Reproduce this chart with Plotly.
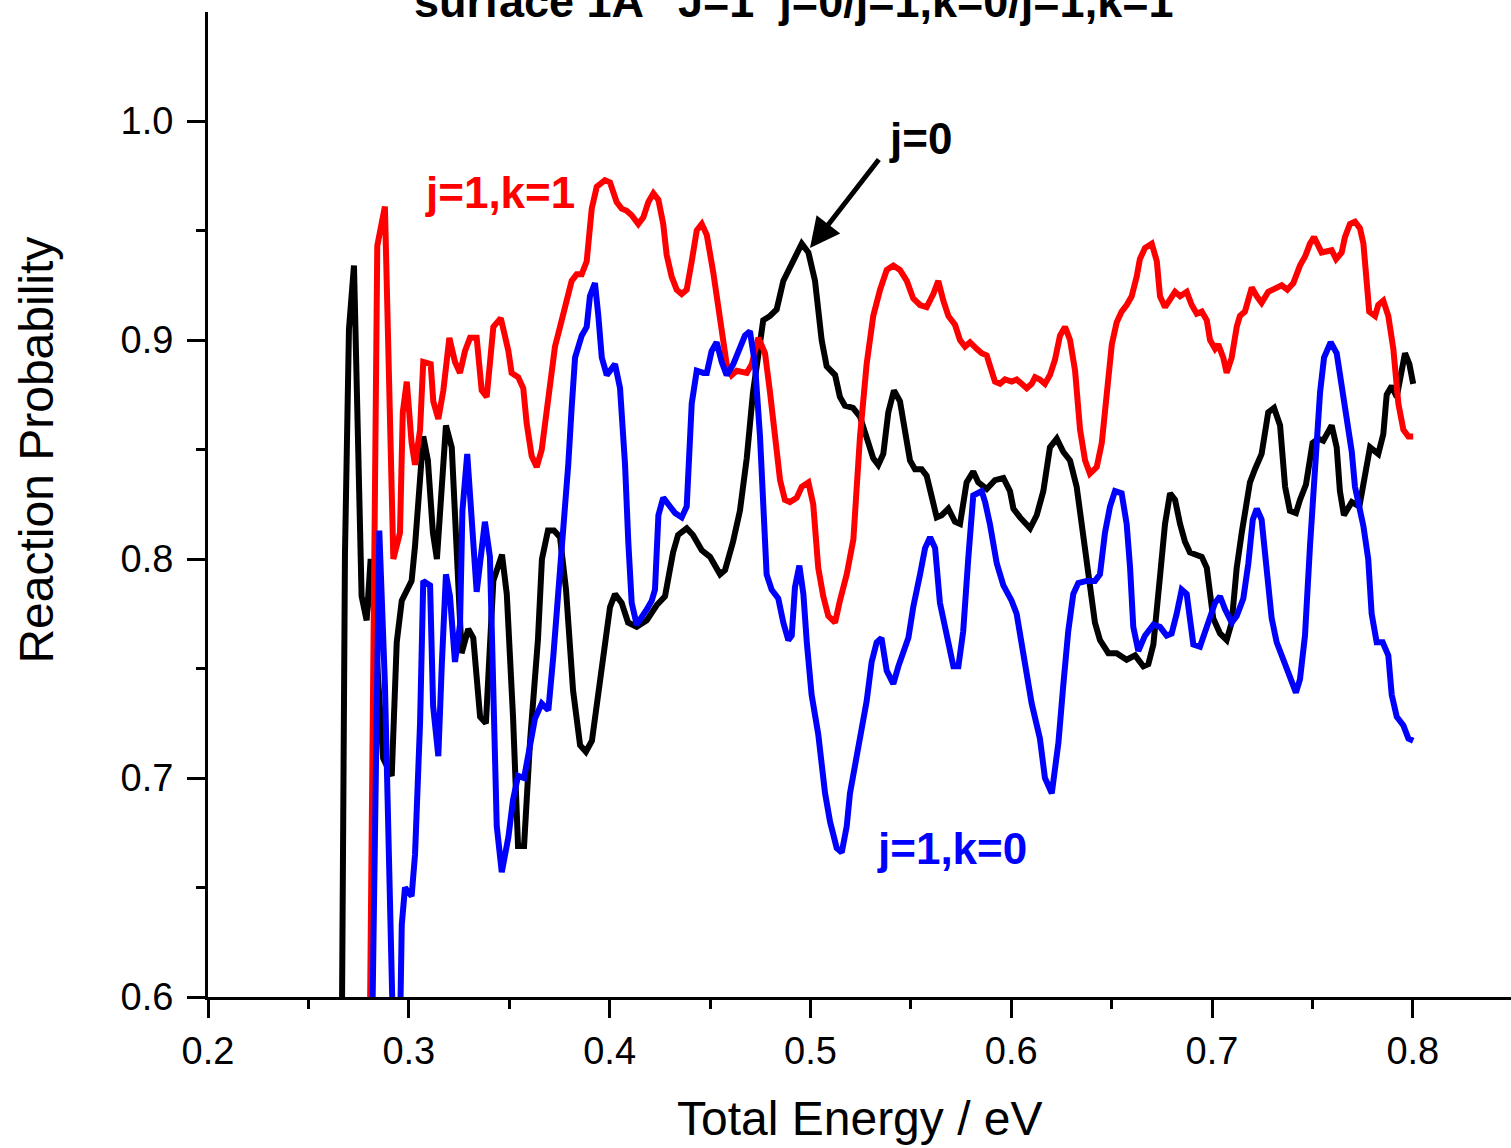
import plotly.graph_objects as go

# ---------------- data ----------------
E_j0 = [0.2657, 0.2682, 0.2702, 0.2727, 0.2765, 0.2790, 0.2810, 0.2872, 0.2915, 0.2940,
        0.2965, 0.3014, 0.3031, 0.3072, 0.3095, 0.3120, 0.3140, 0.3185, 0.3214, 0.3263,
        0.3296, 0.3321, 0.3355, 0.3384, 0.3421, 0.3464, 0.3488, 0.3519, 0.3544, 0.3574,
        0.3604, 0.3643, 0.3663, 0.3693, 0.3723, 0.3753, 0.3783, 0.3818, 0.3853, 0.3882,
        0.3912, 0.3942, 0.3972, 0.4002, 0.4027, 0.4060, 0.4092, 0.4135, 0.4185, 0.4235,
        0.4276, 0.4316, 0.4341, 0.4384, 0.4415, 0.4459, 0.4500, 0.4550, 0.4575, 0.4615,
        0.4649, 0.4683, 0.4714, 0.4765, 0.4799, 0.4832, 0.4865, 0.4915, 0.4957, 0.4990,
        0.5023, 0.5056, 0.5081, 0.5123, 0.5147, 0.5172, 0.5212, 0.5247, 0.5280, 0.5313,
        0.5338, 0.5363, 0.5388, 0.5416, 0.5446, 0.5471, 0.5496, 0.5521, 0.5554, 0.5579,
        0.5604, 0.5629, 0.5654, 0.5687, 0.5720, 0.5745, 0.5778, 0.5811, 0.5836, 0.5878,
        0.5919, 0.5961, 0.5994, 0.6011, 0.6044, 0.6094, 0.6127, 0.6160, 0.6193, 0.6227,
        0.6259, 0.6293, 0.6326, 0.6359, 0.6392, 0.6417, 0.6442, 0.6484, 0.6525, 0.6575,
        0.6617, 0.6658, 0.6683, 0.6708, 0.6741, 0.6766, 0.6791, 0.6816, 0.6841, 0.6865,
        0.6890, 0.6924, 0.6949, 0.6974, 0.7006, 0.7040, 0.7073, 0.7098, 0.7123, 0.7148,
        0.7189, 0.7214, 0.7247, 0.7280, 0.7309, 0.7339, 0.7364, 0.7388, 0.7418, 0.7438,
        0.7468, 0.7501, 0.7529, 0.7554, 0.7596, 0.7621, 0.7637, 0.7657, 0.7696, 0.7734,
        0.7754, 0.7787, 0.7828, 0.7853, 0.7870, 0.7895, 0.7920, 0.7945, 0.7961, 0.7983,
        0.8002]
P_j0 = [0.45, 0.802, 0.905, 0.934, 0.783, 0.772, 0.800, 0.709, 0.701, 0.762,
        0.781, 0.790, 0.806, 0.856, 0.845, 0.812, 0.800, 0.861, 0.851, 0.757,
        0.768, 0.764, 0.728, 0.725, 0.790, 0.802, 0.784, 0.728, 0.669, 0.669,
        0.717, 0.763, 0.800, 0.813, 0.813, 0.810, 0.786, 0.740, 0.715, 0.712,
        0.717, 0.736, 0.758, 0.778, 0.784, 0.780, 0.771, 0.769, 0.772, 0.779,
        0.783, 0.803, 0.811, 0.814, 0.811, 0.804, 0.801, 0.793, 0.795, 0.808,
        0.822, 0.846, 0.876, 0.909, 0.911, 0.914, 0.927, 0.937, 0.944, 0.940,
        0.927, 0.900, 0.888, 0.884, 0.874, 0.870, 0.869, 0.865, 0.856, 0.846,
        0.843, 0.848, 0.867, 0.877, 0.872, 0.858, 0.845, 0.841, 0.841, 0.838,
        0.827, 0.819, 0.820, 0.823, 0.817, 0.816, 0.835, 0.840, 0.835, 0.832,
        0.836, 0.837, 0.831, 0.823, 0.819, 0.814, 0.820, 0.831, 0.851, 0.855,
        0.849, 0.845, 0.833, 0.810, 0.785, 0.771, 0.763, 0.757, 0.757, 0.754,
        0.756, 0.751, 0.752, 0.761, 0.792, 0.816, 0.830, 0.827, 0.816, 0.808,
        0.803, 0.802, 0.801, 0.796, 0.773, 0.766, 0.763, 0.771, 0.796, 0.812,
        0.835, 0.841, 0.848, 0.867, 0.869, 0.861, 0.833, 0.822, 0.821, 0.827,
        0.834, 0.853, 0.855, 0.854, 0.861, 0.851, 0.831, 0.820, 0.826, 0.824,
        0.833, 0.851, 0.848, 0.857, 0.875, 0.879, 0.874, 0.887, 0.894, 0.889,
        0.880]

E_j1k1 = [0.2792, 0.2843, 0.2881, 0.2923, 0.2956, 0.2970, 0.2990, 0.3014, 0.3031, 0.3056,
          0.3072, 0.3109, 0.3122, 0.3147, 0.3172, 0.3202, 0.3230, 0.3255, 0.3280, 0.3305,
          0.3338, 0.3363, 0.3388, 0.3421, 0.3458, 0.3496, 0.3512, 0.3545, 0.3570, 0.3587,
          0.3612, 0.3637, 0.3662, 0.3687, 0.3712, 0.3728, 0.3753, 0.3786, 0.3811, 0.3836,
          0.3861, 0.3886, 0.3911, 0.3936, 0.3977, 0.4002, 0.4035, 0.4060, 0.4085, 0.4110,
          0.4143, 0.4168, 0.4193, 0.4218, 0.4243, 0.4267, 0.4284, 0.4309, 0.4334, 0.4359,
          0.4384, 0.4409, 0.4434, 0.4459, 0.4484, 0.4516, 0.4550, 0.4583, 0.4608, 0.4633,
          0.4683, 0.4708, 0.4741, 0.4774, 0.4799, 0.4824, 0.4849, 0.4873, 0.4898, 0.4932,
          0.4957, 0.4990, 0.5014, 0.5039, 0.5064, 0.5089, 0.5123, 0.5147, 0.5181, 0.5214,
          0.5247, 0.5280, 0.5313, 0.5347, 0.5380, 0.5413, 0.5446, 0.5480, 0.5512, 0.5546,
          0.5579, 0.5612, 0.5637, 0.5662, 0.5687, 0.5720, 0.5745, 0.5770, 0.5795, 0.5828,
          0.5853, 0.5878, 0.5894, 0.5919, 0.5944, 0.5969, 0.6002, 0.6027, 0.6052, 0.6077,
          0.6102, 0.6119, 0.6143, 0.6168, 0.6193, 0.6218, 0.6243, 0.6268, 0.6293, 0.6318,
          0.6343, 0.6368, 0.6392, 0.6426, 0.6451, 0.6476, 0.6501, 0.6525, 0.6550, 0.6575,
          0.6600, 0.6625, 0.6641, 0.6666, 0.6700, 0.6725, 0.6741, 0.6766, 0.6791, 0.6816,
          0.6841, 0.6874, 0.6899, 0.6924, 0.6949, 0.6974, 0.6990, 0.7015, 0.7031, 0.7056,
          0.7073, 0.7098, 0.7123, 0.7139, 0.7164, 0.7198, 0.7223, 0.7247, 0.7280, 0.7305,
          0.7347, 0.7375, 0.7405, 0.7438, 0.7463, 0.7488, 0.7508, 0.7546, 0.7579, 0.7596,
          0.7618, 0.7646, 0.7662, 0.7687, 0.7712, 0.7737, 0.7754, 0.7770, 0.7783, 0.7812,
          0.7828, 0.7853, 0.7878, 0.7903, 0.7928, 0.7953, 0.7978, 0.8002]
P_j1k1 = [0.45, 0.943, 0.961, 0.800, 0.812, 0.867, 0.881, 0.853, 0.843, 0.859,
          0.890, 0.889, 0.872, 0.864, 0.877, 0.901, 0.890, 0.885, 0.895, 0.901,
          0.901, 0.877, 0.874, 0.906, 0.910, 0.895, 0.885, 0.883, 0.878, 0.862,
          0.847, 0.842, 0.850, 0.869, 0.888, 0.897, 0.906, 0.918, 0.927, 0.930,
          0.930, 0.936, 0.960, 0.970, 0.973, 0.972, 0.963, 0.960, 0.959, 0.957,
          0.953, 0.956, 0.963, 0.967, 0.964, 0.953, 0.939, 0.929, 0.923, 0.921,
          0.923, 0.936, 0.950, 0.953, 0.948, 0.931, 0.908, 0.889, 0.884, 0.886,
          0.885, 0.889, 0.901, 0.894, 0.876, 0.858, 0.836, 0.827, 0.826, 0.828,
          0.833, 0.835, 0.825, 0.796, 0.783, 0.774, 0.771, 0.781, 0.793, 0.809,
          0.856, 0.889, 0.911, 0.923, 0.932, 0.934, 0.932, 0.927, 0.919, 0.916,
          0.915, 0.921, 0.927, 0.918, 0.911, 0.907, 0.900, 0.897, 0.899, 0.896,
          0.894, 0.893, 0.888, 0.881, 0.880, 0.882, 0.881, 0.882, 0.880, 0.878,
          0.880, 0.883, 0.882, 0.880, 0.884, 0.891, 0.902, 0.906, 0.900, 0.886,
          0.859, 0.845, 0.839, 0.842, 0.853, 0.878, 0.898, 0.908, 0.913, 0.916,
          0.920, 0.929, 0.937, 0.942, 0.944, 0.936, 0.920, 0.915, 0.919, 0.922,
          0.920, 0.922, 0.916, 0.912, 0.913, 0.909, 0.900, 0.896, 0.898, 0.892,
          0.885, 0.892, 0.906, 0.911, 0.913, 0.924, 0.920, 0.917, 0.922, 0.923,
          0.925, 0.923, 0.926, 0.934, 0.938, 0.944, 0.947, 0.940, 0.941, 0.941,
          0.937, 0.940, 0.947, 0.953, 0.954, 0.951, 0.944, 0.929, 0.913, 0.911,
          0.916, 0.918, 0.911, 0.896, 0.871, 0.859, 0.856, 0.856]

E_j1k0 = [0.2797, 0.2853, 0.2881, 0.2906, 0.2930, 0.2950, 0.2965, 0.2981, 0.3014, 0.3031,
          0.3056, 0.3072, 0.3106, 0.3121, 0.3147, 0.3164, 0.3185, 0.3205, 0.3230, 0.3255,
          0.3267, 0.3291, 0.3321, 0.3338, 0.3379, 0.3404, 0.3438, 0.3463, 0.3496, 0.3519,
          0.3544, 0.3574, 0.3604, 0.3628, 0.3662, 0.3695, 0.3720, 0.3753, 0.3778, 0.3794,
          0.3811, 0.3828, 0.3861, 0.3886, 0.3902, 0.3927, 0.3944, 0.3961, 0.3986, 0.4027,
          0.4052, 0.4077, 0.4093, 0.4110, 0.4135, 0.4160, 0.4185, 0.4210, 0.4226, 0.4243,
          0.4267, 0.4301, 0.4326, 0.4359, 0.4384, 0.4409, 0.4434, 0.4467, 0.4484, 0.4508,
          0.4533, 0.4558, 0.4583, 0.4616, 0.4649, 0.4674, 0.4699, 0.4724, 0.4749, 0.4765,
          0.4782, 0.4807, 0.4840, 0.4865, 0.4890, 0.4907, 0.4923, 0.4945, 0.4965, 0.4982,
          0.5006, 0.5039, 0.5073, 0.5098, 0.5131, 0.5156, 0.5181, 0.5197, 0.5222, 0.5247,
          0.5280, 0.5305, 0.5330, 0.5354, 0.5380, 0.5413, 0.5438, 0.5488, 0.5512, 0.5546,
          0.5571, 0.5596, 0.5621, 0.5645, 0.5679, 0.5712, 0.5737, 0.5761, 0.5786, 0.5811,
          0.5853, 0.5870, 0.5894, 0.5928, 0.5961, 0.6002, 0.6027, 0.6060, 0.6102, 0.6143,
          0.6168, 0.6202, 0.6235, 0.6259, 0.6284, 0.6309, 0.6334, 0.6376, 0.6417, 0.6442,
          0.6467, 0.6492, 0.6517, 0.6550, 0.6575, 0.6592, 0.6608, 0.6633, 0.6666, 0.6708,
          0.6741, 0.6774, 0.6799, 0.6824, 0.6849, 0.6874, 0.6907, 0.6940, 0.6965, 0.6990,
          0.7015, 0.7040, 0.7065, 0.7098, 0.7123, 0.7156, 0.7181, 0.7203, 0.7223, 0.7247,
          0.7272, 0.7297, 0.7322, 0.7347, 0.7380, 0.7418, 0.7438, 0.7463, 0.7488, 0.7513,
          0.7538, 0.7558, 0.7591, 0.7621, 0.7646, 0.7671, 0.7696, 0.7712, 0.7754, 0.7778,
          0.7795, 0.7820, 0.7850, 0.7878, 0.7895, 0.7920, 0.7953, 0.7978, 0.8002]
P_j1k0 = [0.45, 0.813, 0.743, 0.659, 0.55, 0.55, 0.633, 0.650, 0.646, 0.665,
          0.725, 0.790, 0.788, 0.733, 0.710, 0.751, 0.793, 0.783, 0.753, 0.770,
          0.822, 0.848, 0.811, 0.785, 0.817, 0.801, 0.678, 0.657, 0.673, 0.690,
          0.701, 0.700, 0.715, 0.727, 0.734, 0.731, 0.756, 0.794, 0.820, 0.843,
          0.869, 0.892, 0.902, 0.906, 0.920, 0.926, 0.911, 0.892, 0.884, 0.889,
          0.878, 0.843, 0.808, 0.780, 0.770, 0.773, 0.777, 0.781, 0.786, 0.820,
          0.828, 0.824, 0.821, 0.819, 0.824, 0.871, 0.886, 0.885, 0.885, 0.895,
          0.899, 0.890, 0.884, 0.889, 0.896, 0.902, 0.904, 0.889, 0.856, 0.822,
          0.793, 0.786, 0.782, 0.771, 0.763, 0.765, 0.787, 0.797, 0.784, 0.762,
          0.738, 0.720, 0.693, 0.680, 0.668, 0.666, 0.678, 0.693, 0.706, 0.720,
          0.735, 0.753, 0.762, 0.764, 0.749, 0.743, 0.751, 0.764, 0.778, 0.793,
          0.805, 0.810, 0.805, 0.780, 0.764, 0.751, 0.751, 0.767, 0.800, 0.829,
          0.831, 0.826, 0.816, 0.798, 0.788, 0.781, 0.775, 0.755, 0.734, 0.718,
          0.700, 0.693, 0.716, 0.742, 0.767, 0.784, 0.789, 0.790, 0.790, 0.793,
          0.812, 0.824, 0.831, 0.830, 0.816, 0.796, 0.769, 0.758, 0.765, 0.770,
          0.769, 0.765, 0.766, 0.775, 0.786, 0.784, 0.761, 0.760, 0.767, 0.775,
          0.780, 0.783, 0.777, 0.771, 0.774, 0.782, 0.798, 0.818, 0.823, 0.818,
          0.796, 0.773, 0.762, 0.756, 0.749, 0.739, 0.745, 0.765, 0.806, 0.841,
          0.876, 0.892, 0.899, 0.894, 0.880, 0.865, 0.849, 0.833, 0.815, 0.800,
          0.775, 0.762, 0.762, 0.756, 0.738, 0.728, 0.724, 0.718, 0.717]

X_TICKS = [0.2, 0.3, 0.4, 0.5, 0.6, 0.7, 0.8]
Y_TICKS = [0.6, 0.7, 0.8, 0.9, 1.0]

TITLE = "surface 1A'' J=1  j=0/j=1,k=0/j=1,k=1"
FONT = "Arial, 'Liberation Sans', sans-serif"

# ---------------- figure ----------------
fig = go.Figure()
fig.add_trace(go.Scatter(x=E_j0, y=P_j0, mode="lines", name="j=0",
                         line=dict(color="black", width=6)))
fig.add_trace(go.Scatter(x=E_j1k1, y=P_j1k1, mode="lines", name="j=1,k=1",
                         line=dict(color="#ff0000", width=6)))
fig.add_trace(go.Scatter(x=E_j1k0, y=P_j1k0, mode="lines", name="j=1,k=0",
                         line=dict(color="#0000ff", width=6)))

axis_common = dict(showline=True, linewidth=3, linecolor="black", showgrid=False,
                   zeroline=False, ticks="outside", ticklen=18, tickwidth=3,
                   tickcolor="black", mirror=False,
                   tickfont=dict(family=FONT, size=38, color="black"))

fig.update_xaxes(range=[0.2, 0.8489], tickvals=X_TICKS,
                 ticktext=[f"{v:.1f}" for v in X_TICKS],
                 minor=dict(ticks="outside", ticklen=9, tickwidth=3, tickcolor="black",
                            tick0=0.25, dtick=0.1),
                 ticklabelstandoff=0, **axis_common)
fig.update_yaxes(range=[0.6, 1.0498], tickvals=Y_TICKS,
                 ticktext=[f"{v:.1f}" for v in Y_TICKS],
                 minor=dict(ticks="outside", ticklen=9, tickwidth=3, tickcolor="black",
                            tick0=0.65, dtick=0.1),
                 ticklabelstandoff=6, **axis_common)

annotations = [
    dict(text="<b>" + TITLE + "</b>", xref="paper", yref="paper", x=0.4497, y=1.0,
         xanchor="center", yanchor="middle", yshift=11, showarrow=False,
         font=dict(family=FONT, size=45, color="black")),
    dict(text="Total Energy / eV", xref="paper", yref="paper", x=0.5, y=-0.1234,
         xanchor="center", yanchor="middle", showarrow=False,
         font=dict(family=FONT, size=48, color="black")),
    dict(text="Reaction Probability", xref="paper", yref="paper", x=-0.1316, y=0.5553,
         xanchor="center", yanchor="middle", textangle=-90, showarrow=False,
         font=dict(family=FONT, size=48, color="black")),
    dict(text="<b>j=1,k=1</b>", xref="x", yref="y", x=0.3454, y=0.9674,
         xanchor="center", yanchor="middle", showarrow=False,
         font=dict(family=FONT, size=44, color="#ff0000")),
    dict(text="<b>j=1,k=0</b>", xref="x", yref="y", x=0.5705, y=0.6676,
         xanchor="center", yanchor="middle", showarrow=False,
         font=dict(family=FONT, size=44, color="#0000ff")),
    dict(text="<b>j=0</b>", xref="x", yref="y", x=0.5546, y=0.9922,
         xanchor="center", yanchor="middle", showarrow=False,
         font=dict(family=FONT, size=44, color="black")),
    dict(text="", xref="x", yref="y", x=0.4998, y=0.942, ax=70, ay=-90,
         showarrow=True, arrowhead=2, arrowsize=1.2, arrowwidth=5,
         arrowcolor="black"),
]

fig.update_layout(width=1511, height=1148, autosize=False,
                  margin=dict(l=208, r=0, t=12, b=151, pad=0),
                  plot_bgcolor="white", paper_bgcolor="white",
                  showlegend=False, annotations=annotations,
                  font=dict(family=FONT, color="black"))

fig.write_html("out.html")
